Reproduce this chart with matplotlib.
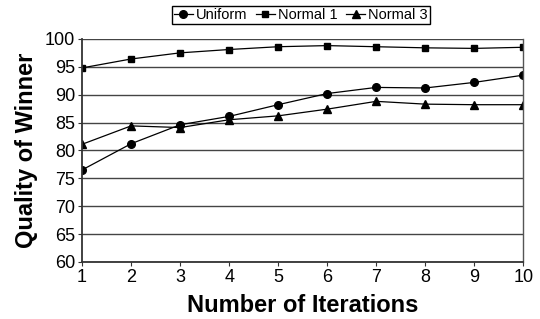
import matplotlib
matplotlib.use("Agg")
import matplotlib.pyplot as plt

plt.rcParams["font.family"] = ["Liberation Sans", "DejaVu Sans"]

# data
iterations = [1, 2, 3, 4, 5, 6, 7, 8, 9, 10]
uniform = [76.5, 81.2, 84.6, 86.1, 88.2, 90.2, 91.3, 91.2, 92.2, 93.5]
normal_1 = [94.8, 96.4, 97.5, 98.1, 98.6, 98.8, 98.6, 98.4, 98.3, 98.5]
normal_3 = [81.1, 84.4, 84.1, 85.5, 86.2, 87.4, 88.8, 88.3, 88.2, 88.2]

fig = plt.figure(figsize=(5.4, 3.19), dpi=100)
ax = fig.add_axes([0.152, 0.179, 0.817, 0.699])

ax.plot(iterations, uniform, color="black", lw=0.9, marker="o", ms=5.5, label="Uniform")
ax.plot(iterations, normal_1, color="black", lw=0.9, marker="s", ms=4.5, label="Normal 1")
ax.plot(iterations, normal_3, color="black", lw=0.9, marker="^", ms=5.5, label="Normal 3")

ax.set_xlim(1, 10)
ax.set_ylim(60, 100)
ax.set_xticks(iterations)
ax.set_yticks(range(60, 101, 5))
ax.yaxis.grid(True, color="#444444", lw=1.0)
ax.set_axisbelow(True)
ax.spines["right"].set_color("#555555")
ax.spines["right"].set_linewidth(1.0)
for side in ["left", "bottom"]:
    ax.spines[side].set_color("#333333")
    ax.spines[side].set_linewidth(1.3)
ax.spines["top"].set_visible(False)
ax.tick_params(axis="both", labelsize=13, length=3, color="#333333", pad=2)

ax.set_xlabel("Number of Iterations", fontsize=17, fontweight="bold", labelpad=6)
ax.set_ylabel("Quality of Winner", fontsize=17, fontweight="bold", labelpad=5)

fig.legend(loc="upper center", bbox_to_anchor=(0.557, 0.99), ncol=3, fontsize=10.5,
           frameon=True, fancybox=False, edgecolor="black", framealpha=1,
           handlelength=1.3, handletextpad=0.2, columnspacing=0.6,
           borderpad=0.15, borderaxespad=0.2, markerscale=1.0)

fig.savefig("out.png", dpi=100)
